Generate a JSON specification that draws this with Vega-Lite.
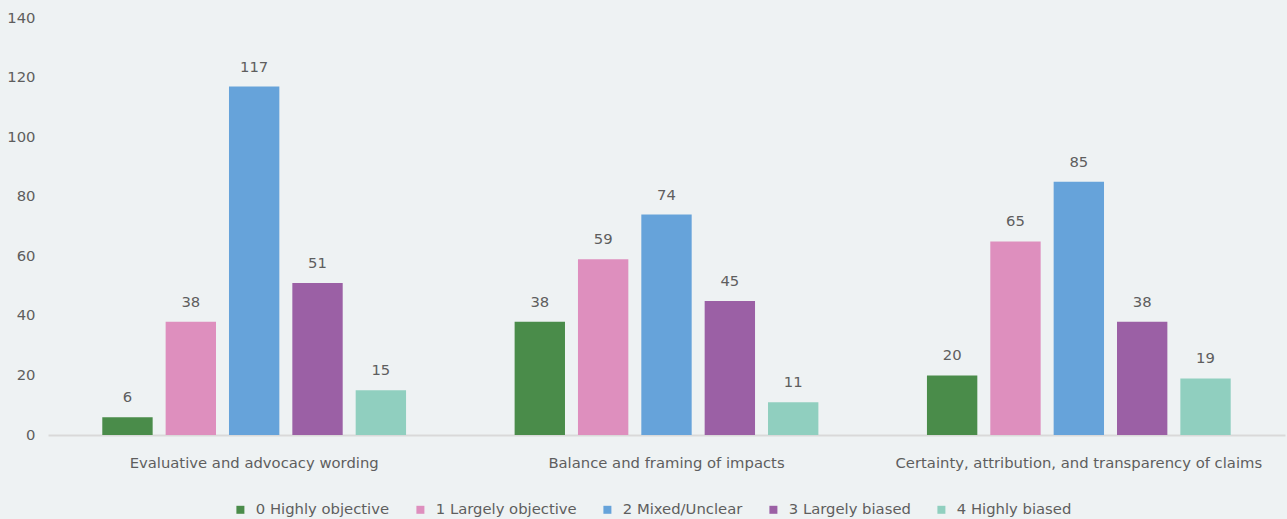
{
  "$schema": "https://vega.github.io/schema/vega-lite/v6.json",
  "width": 1237,
  "height": 417,
  "autosize": {"type": "none"},
  "padding": {"left": 48, "top": 18, "right": 2, "bottom": 84},
  "background": "#EEF2F3",
  "config": {
    "view": {"stroke": null},
    "font": "DejaVu Sans",
    "text": {"font": "DejaVu Sans"}
  },
  "data": {
    "values": [
      {"category": "Evaluative and advocacy wording", "rating": "0 Highly objective", "count": 6},
      {"category": "Evaluative and advocacy wording", "rating": "1 Largely objective", "count": 38},
      {"category": "Evaluative and advocacy wording", "rating": "2 Mixed/Unclear", "count": 117},
      {"category": "Evaluative and advocacy wording", "rating": "3 Largely biased", "count": 51},
      {"category": "Evaluative and advocacy wording", "rating": "4 Highly biased", "count": 15},
      {"category": "Balance and framing of impacts", "rating": "0 Highly objective", "count": 38},
      {"category": "Balance and framing of impacts", "rating": "1 Largely objective", "count": 59},
      {"category": "Balance and framing of impacts", "rating": "2 Mixed/Unclear", "count": 74},
      {"category": "Balance and framing of impacts", "rating": "3 Largely biased", "count": 45},
      {"category": "Balance and framing of impacts", "rating": "4 Highly biased", "count": 11},
      {"category": "Certainty, attribution, and transparency of claims", "rating": "0 Highly objective", "count": 20},
      {"category": "Certainty, attribution, and transparency of claims", "rating": "1 Largely objective", "count": 65},
      {"category": "Certainty, attribution, and transparency of claims", "rating": "2 Mixed/Unclear", "count": 85},
      {"category": "Certainty, attribution, and transparency of claims", "rating": "3 Largely biased", "count": 38},
      {"category": "Certainty, attribution, and transparency of claims", "rating": "4 Highly biased", "count": 19}
    ]
  },
  "encoding": {
    "x": {
      "field": "category",
      "type": "nominal",
      "sort": null,
      "scale": {"paddingInner": 0, "paddingOuter": 0},
      "axis": {
        "title": null,
        "labelAngle": 0,
        "labelLimit": 0,
        "ticks": false,
        "domainColor": "#D9D9D9",
        "domainWidth": 2,
        "labelPadding": 20,
        "labelFontSize": 14.8,
        "labelColor": "#5E5E5E",
        "labelFont": "DejaVu Sans"
      }
    },
    "xOffset": {
      "field": "rating",
      "type": "nominal",
      "sort": null,
      "scale": {"paddingInner": 0.205, "paddingOuter": 0.857}
    },
    "y": {
      "field": "count",
      "type": "quantitative",
      "scale": {"domain": [0, 140]},
      "axis": {
        "title": null,
        "values": [0, 20, 40, 60, 80, 100, 120, 140],
        "grid": false,
        "domain": false,
        "ticks": false,
        "labelPadding": 13,
        "labelFontSize": 14.8,
        "labelColor": "#5E5E5E",
        "labelFont": "DejaVu Sans"
      }
    }
  },
  "layer": [
    {
      "mark": {"type": "bar"},
      "encoding": {
        "color": {
          "field": "rating",
          "type": "nominal",
          "sort": null,
          "scale": {
            "domain": ["0 Highly objective", "1 Largely objective", "2 Mixed/Unclear", "3 Largely biased", "4 Highly biased"],
            "range": ["#4A8C4A", "#DE8FBE", "#66A3DA", "#9B60A5", "#90CFBF"]
          },
          "legend": {
            "title": null,
            "orient": "none",
            "legendX": 185,
            "legendY": 484,
            "direction": "horizontal",
            "symbolType": "square",
            "symbolSize": 64,
            "symbolStrokeWidth": 0,
            "labelFontSize": 14.8,
            "labelColor": "#5E5E5E",
            "labelFont": "DejaVu Sans",
            "labelOffset": 8,
            "labelLimit": 0,
            "columnPadding": 23
          }
        }
      }
    },
    {
      "mark": {"type": "text", "baseline": "bottom", "dy": -12, "fontSize": 14.8, "color": "#5E5E5E"},
      "encoding": {
        "text": {"field": "count", "type": "quantitative"}
      }
    }
  ]
}
